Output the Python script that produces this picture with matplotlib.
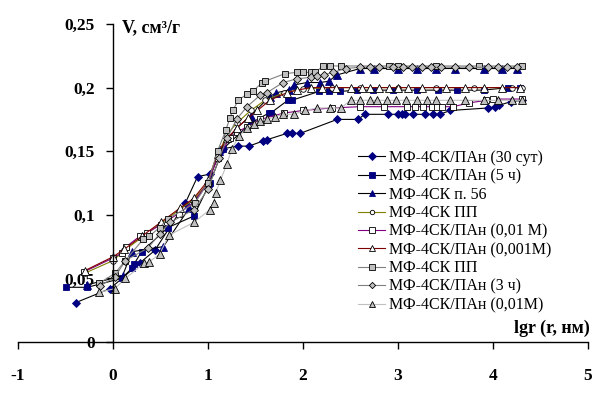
import matplotlib
matplotlib.use("Agg")
import matplotlib.pyplot as plt

plt.rcParams['font.family'] = ['Liberation Serif', 'DejaVu Serif']

# МФ-4СК/ПАн (30 сут)
x1 = [-0.39, -0.03, 0.28, 0.44, 0.76, 0.89, 1.02, 1.16, 1.32, 1.43, 1.58, 1.62, 1.83, 1.88, 1.97,
      2.36, 2.58, 2.65, 2.89, 3.0, 3.04, 3.07, 3.16, 3.28, 3.37, 3.44, 3.55, 3.95, 4.02, 4.06, 4.19, 4.3]
y1 = [0.031, 0.042, 0.062, 0.072, 0.109, 0.130, 0.132, 0.152, 0.154, 0.154, 0.158, 0.159, 0.164, 0.164, 0.164,
      0.175, 0.175, 0.179, 0.179, 0.179, 0.179, 0.179, 0.179, 0.179, 0.179, 0.179, 0.182, 0.184, 0.185, 0.186, 0.189, 0.190]

# МФ-4СК/ПАн (5 ч)
x2 = [-0.5, -0.27, 0.09, 0.2, 0.22, 0.3, 0.58, 0.85, 1.02, 1.16, 1.45, 1.64, 1.66, 1.84, 1.88,
      2.17, 2.27, 2.39, 2.57, 2.74, 2.95, 3.2, 3.42, 3.62, 3.9, 4.16, 4.28]
y2 = [0.043, 0.043, 0.05, 0.058, 0.061, 0.071, 0.09, 0.099, 0.125, 0.152, 0.172, 0.18, 0.18, 0.19, 0.19,
      0.197, 0.197, 0.197, 0.198, 0.198, 0.198, 0.198, 0.198, 0.198, 0.198, 0.2, 0.2]

# МФ-4СК п. 56
x3 = [-0.27, 0.1, 0.2, 0.53, 0.8, 1.0, 1.12, 1.3, 1.45, 1.65, 1.72, 1.85, 1.9, 2.04, 2.18, 2.27, 2.36,
      2.6, 2.75, 3.0, 3.2, 3.4, 3.6, 3.9, 4.1, 4.25]
y3 = [0.045, 0.052, 0.071, 0.075, 0.105, 0.125, 0.15, 0.168, 0.178, 0.193, 0.196, 0.198, 0.202, 0.204, 0.204, 0.205, 0.21,
      0.215, 0.215, 0.215, 0.215, 0.215, 0.215, 0.215, 0.215, 0.215]

# МФ-4СК ПП
x4 = [-0.3, 0.0, 0.12, 0.3, 0.5, 0.7, 0.85, 1.0, 1.12, 1.2, 1.3, 1.45, 1.6, 1.8, 2.0, 2.3, 2.6, 3.0, 3.4, 3.8, 4.2, 4.3]
y4 = [0.054, 0.064, 0.072, 0.082, 0.093, 0.104, 0.112, 0.125, 0.15, 0.163, 0.172, 0.182, 0.19, 0.196, 0.199, 0.2, 0.2,
      0.2, 0.2, 0.2, 0.2, 0.2]

# МФ-4СК/ПАн (0,01 М)
x5 = [-0.31, 0.0, 0.09, 0.14, 0.28, 0.36, 0.5, 0.69, 0.85, 1.0, 1.1, 1.23, 1.3, 1.41, 1.55, 1.8, 2.0, 2.3, 2.6,
      2.85, 3.09, 3.18, 3.26, 3.36, 3.41, 3.46, 3.58, 3.75, 3.93, 4.0, 4.3]
y5 = [0.055, 0.066, 0.07, 0.075, 0.083, 0.086, 0.092, 0.101, 0.11, 0.125, 0.145, 0.16, 0.165, 0.169, 0.175, 0.18, 0.182,
      0.184, 0.185, 0.185, 0.185, 0.185, 0.185, 0.185, 0.185, 0.185, 0.185, 0.188, 0.19, 0.191, 0.191]

# МФ-4СК/ПАн (0,001М)
x6 = [-0.3, 0.0, 0.12, 0.3, 0.5, 0.7, 0.85, 1.0, 1.1, 1.2, 1.3, 1.42, 1.52, 1.65, 1.83, 1.94, 2.08, 2.2, 2.35, 2.5,
      2.62, 2.7, 2.8, 2.9, 3.0, 3.1, 3.25, 3.5, 3.7, 3.9, 4.1, 4.28]
y6 = [0.056, 0.067, 0.073, 0.083, 0.094, 0.105, 0.113, 0.127, 0.148, 0.16, 0.168, 0.176, 0.182, 0.19, 0.196, 0.198, 0.2,
      0.2, 0.2, 0.2, 0.2, 0.2, 0.2, 0.2, 0.2, 0.2, 0.2, 0.2, 0.2, 0.2, 0.2, 0.2]

# МФ-4СК ПП (2)
x7 = [-0.15, 0.02, 0.13, 0.32, 0.38, 0.49, 0.58, 0.86, 1.0, 1.1, 1.19, 1.23, 1.26, 1.32, 1.41, 1.47, 1.57, 1.6, 1.81,
      1.94, 2.0, 2.08, 2.13, 2.21, 2.28, 2.4, 2.9, 3.0, 3.4, 3.85, 4.3]
y7 = [0.046, 0.054, 0.064, 0.081, 0.083, 0.09, 0.097, 0.109, 0.125, 0.15, 0.167, 0.176, 0.182, 0.19, 0.195, 0.197, 0.204,
      0.205, 0.211, 0.212, 0.212, 0.212, 0.212, 0.217, 0.217, 0.217, 0.217, 0.217, 0.217, 0.217, 0.217]

# МФ-4СК/ПАн (3 ч)
x8 = [-0.14, 0.02, 0.13, 0.37, 0.49, 0.6, 0.85, 1.0, 1.12, 1.2, 1.3, 1.41, 1.55, 1.62, 1.79, 1.94, 2.08, 2.15, 2.22,
      2.32, 2.45, 2.6, 2.7, 2.8, 2.95, 3.05, 3.15, 3.25, 3.35, 3.45, 3.6, 3.75, 3.95, 4.05, 4.15, 4.25]
y8 = [0.044, 0.051, 0.064, 0.074, 0.085, 0.094, 0.104, 0.12, 0.145, 0.16, 0.175, 0.185, 0.194, 0.196, 0.204, 0.207, 0.208,
      0.209, 0.21, 0.212, 0.215, 0.216, 0.216, 0.216, 0.216, 0.216, 0.216, 0.216, 0.216, 0.216, 0.216, 0.216, 0.216, 0.216,
      0.216, 0.216]

# МФ-4СК/ПАн (0,01М)
x9 = [-0.15, 0.02, 0.13, 0.33, 0.38, 0.49, 0.59, 0.85, 1.02, 1.06, 1.08, 1.13, 1.2, 1.25, 1.33, 1.41, 1.48, 1.55, 1.62,
      1.7, 1.79, 1.9, 2.02, 2.15, 2.28, 2.4, 2.5, 2.6, 2.7, 2.78, 2.88, 2.98, 3.08, 3.2, 3.3, 3.4, 3.55, 3.7, 3.9, 4.05,
      4.2, 4.3]
y9 = [0.039, 0.042, 0.05, 0.062, 0.063, 0.069, 0.084, 0.094, 0.104, 0.109, 0.117, 0.127, 0.14, 0.152, 0.162, 0.168, 0.171,
      0.174, 0.175, 0.177, 0.179, 0.179, 0.182, 0.184, 0.184, 0.184, 0.19, 0.19, 0.19, 0.19, 0.19, 0.19, 0.19, 0.19, 0.19,
      0.19, 0.19, 0.19, 0.19, 0.19, 0.19, 0.19]

labels = ['МФ-4СК/ПАн (30 сут)', 'МФ-4СК/ПАн (5 ч)', 'МФ-4СК п. 56', 'МФ-4СК ПП',
          'МФ-4СК/ПАн (0,01 М)', 'МФ-4СК/ПАн (0,001М)', 'МФ-4СК ПП', 'МФ-4СК/ПАн (3 ч)',
          'МФ-4СК/ПАн (0,01М)']
xticks = [-1, 0, 1, 2, 3, 4, 5]
yticks = [0, 0.05, 0.1, 0.15, 0.2, 0.25]
ytick_labels = ['0', '0,05', '0,1', '0,15', '0,2', '0,25']

navy = '#000080'
styles = [
    dict(color='black', marker='D', ms=4.5, mfc=navy, mec=navy),
    dict(color='black', marker='s', ms=5, mfc=navy, mec=navy),
    dict(color='black', marker='^', ms=5.5, mfc=navy, mec=navy),
    dict(color='#808000', marker='o', ms=4, mfc='white', mec='black'),
    dict(color='#800080', marker='s', ms=5, mfc='white', mec='black'),
    dict(color='#800000', marker='^', ms=5.5, mfc='white', mec='black'),
    dict(color='#808080', marker='s', ms=5, mfc='#c0c0c0', mec='black'),
    dict(color='#808080', marker='D', ms=4, mfc='#c0c0c0', mec='black'),
    dict(color='#c0c0c0', marker='^', ms=5.5, mfc='#c0c0c0', mec='black'),
]

fig = plt.figure(figsize=(6.06, 3.93), dpi=100)
ax = fig.add_axes([18 / 606, 51 / 393, 570 / 606, 318 / 393])

series = [(x1, y1), (x2, y2), (x3, y3), (x4, y4), (x5, y5), (x6, y6), (x7, y7), (x8, y8), (x9, y9)]
for (xs, ys), lab, st in zip(series, labels, styles):
    ax.plot(xs, ys, lw=0.8, mew=0.6, label=lab, **st)

ax.set_xlim(-1, 5)
ax.set_ylim(0, 0.25)
ax.spines['left'].set_position(('data', 0))
ax.spines['bottom'].set_position(('data', 0))
ax.spines['top'].set_visible(False)
ax.spines['right'].set_visible(False)
ax.spines['left'].set_linewidth(1)
ax.spines['bottom'].set_linewidth(1)

ax.set_xticks(xticks)
ax.set_xticklabels([str(t) for t in xticks], fontweight='bold', fontsize=12.5)
ax.set_yticks(yticks)
ax.set_yticklabels(ytick_labels, fontweight='bold', fontsize=12.5)
ax.tick_params(axis='x', direction='out', length=5, pad=14, width=1)
ax.tick_params(axis='y', direction='out', length=5, pad=8, width=1)

ax.text(0.095, 0.247, 'V, см³/г', fontweight='bold', fontsize=13, va='center', ha='left')
ax.text(5.02, 0.011, 'lgr (r, нм)', fontweight='bold', fontsize=13, va='center', ha='right')

fig.legend(loc='upper left', bbox_to_anchor=(358 / 606, 1 - 150 / 393), frameon=False,
           fontsize=11.5, handlelength=1.7, handletextpad=0.25, labelspacing=0.15,
           markerscale=0.8, borderaxespad=0, borderpad=0)

fig.savefig('out.png', dpi=100)
